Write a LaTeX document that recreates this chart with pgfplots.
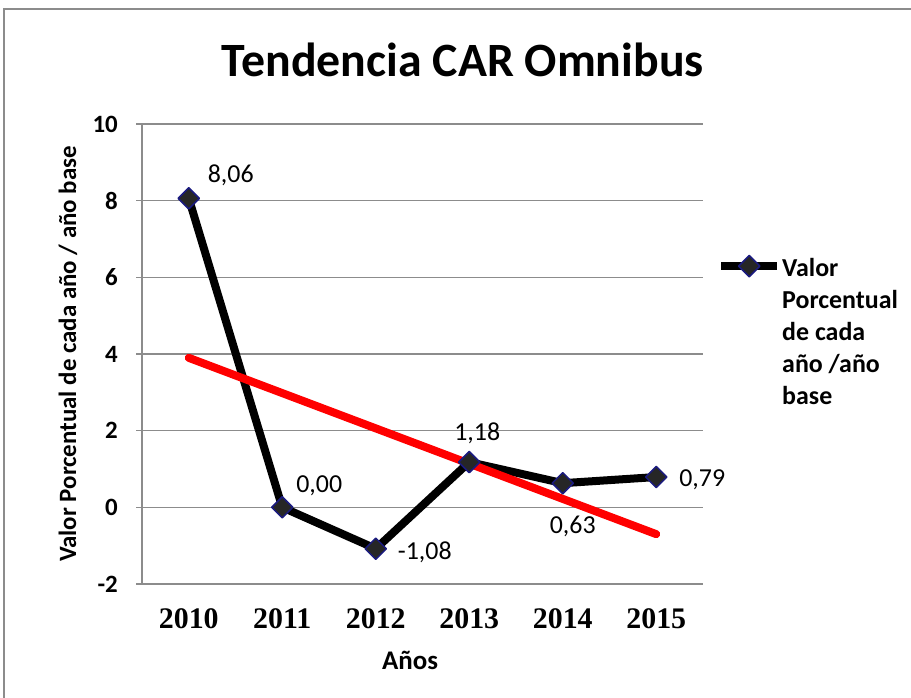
\documentclass[border=0pt]{standalone}
\usepackage{fontspec}
\setmainfont{Carlito}
\newfontfamily\yearfont{Liberation Serif}
\usepackage{pgfplots}
\usepackage{pgfplotstable}
\pgfplotsset{compat=1.18}
\definecolor{gridgray}{HTML}{8C8C8C}
\definecolor{markblue}{HTML}{1A1A80}

% valores, desplazamientos de las etiquetas (bp) y texto
\pgfplotstableread{
x y dx dy lab
0 8.06 42 23 8,06
1 0.00 37 22 0,00
2 -1.08 49 -4 -1,08
3 1.18 8 29 1,18
4 0.63 10 -43 0,63
5 0.79 46 -3 0,79
}\datos

\begin{document}
\begin{tikzpicture}[x=1bp,y=1bp]
\useasboundingbox (0,0) rectangle (911,698);
\draw[gridgray, line width=1.2bp] (4,-10) rectangle (930,689);
\begin{axis}[
    at={(142bp,114bp)}, anchor=south west,
    scale only axis, width=561bp, height=460bp,
    xmin=-0.5, xmax=5.5, ymin=-2, ymax=10,
    clip=false,
    axis x line*=bottom, axis y line*=left,
    axis line style={draw=gridgray, line width=1.3bp},
    ymajorgrids, grid style={draw=gridgray, line width=1.3bp},
    xtick={0,1,2,3,4,5},
    xticklabels={2010,2011,2012,2013,2014,2015},
    xtick style={draw=none},
    xticklabel style={font=\yearfont\bfseries\fontsize{30}{30}\selectfont, inner sep=0pt, yshift=-18bp},
    ytick={-2,0,2,4,6,8,10},
    yticklabels={-2,0,2,4,6,8,10},
    tick align=outside, major tick length=6bp,
    ytick style={draw=gridgray, line width=1.3bp},
    yticklabel style={font=\bfseries\fontsize{25}{25}\selectfont, inner sep=0pt, xshift=-18bp},
    title={Tendencia CAR Omnibus},
    title style={font=\bfseries\fontsize{48}{48}\selectfont, at={(0.572,1)}, anchor=center, yshift=58bp},
    xlabel={Años},
    xlabel style={font=\bfseries\fontsize{27}{27}\selectfont, at={(axis description cs:0.478,0)}, anchor=center, yshift=-76bp},
    ylabel={Valor Porcentual de cada año / año base},
    ylabel style={font=\bfseries\fontsize{25}{25}\selectfont, at={(axis description cs:0,0.5)}, anchor=center, yshift=74bp},
    legend style={draw=none, fill=none, at={(1.025,0.691)}, anchor=west, inner sep=0pt,
        nodes={inner sep=1bp},
        font=\bfseries\fontsize{26}{32}\selectfont},
    legend cell align=left,
    legend image code/.code={\draw[mark repeat=2,mark phase=2,#1] plot coordinates {(0bp,0bp) (28bp,0bp) (56bp,0bp)};},
]
\addplot[black, line width=8bp, line join=round,
    mark=square*, mark size=7.5bp,
    mark options={rotate=45, fill=black!85, draw=markblue, line width=1.5bp}]
    table[x=x, y=y] {\datos};
\addlegendentry{\raisebox{0pt}[\ht\strutbox][\dp\strutbox]{\begin{tabular}[t]{@{}l@{}}Valor\\Porcentual\\de cada\\año /año\\base\end{tabular}}}
\addplot[red, line width=8bp, line cap=round, forget plot]
    coordinates {(0,3.90) (5,-0.70)};
\addplot[draw=none, mark=none, forget plot,
    nodes near coords, point meta=explicit symbolic,
    visualization depends on={\thisrow{dx} \as \dx},
    visualization depends on={\thisrow{dy} \as \dy},
    every node near coord/.append style={anchor=center, inner sep=0pt,
        xshift={1bp*\dx}, yshift={1bp*\dy}, font=\fontsize{26}{26}\selectfont, text=black}]
    table[x=x, y=y, meta=lab] {\datos};
\end{axis}
\end{tikzpicture}
\end{document}
